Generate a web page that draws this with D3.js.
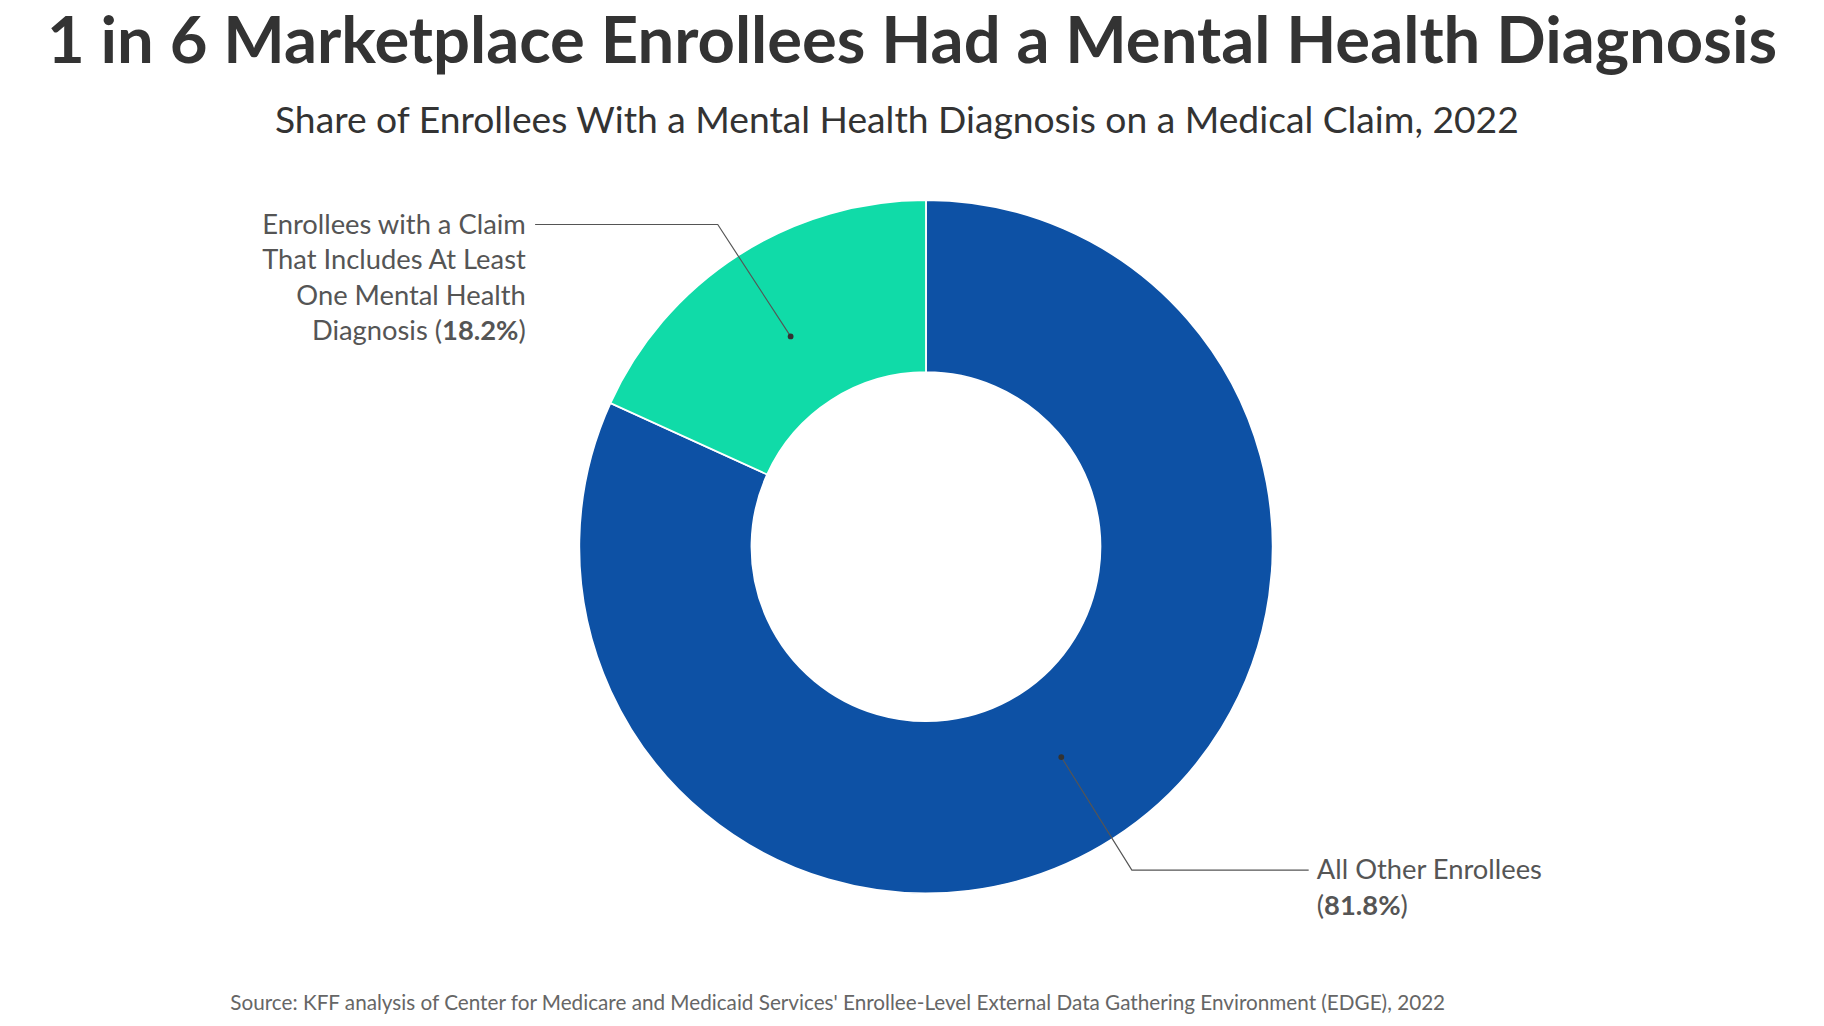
<!DOCTYPE html>
<html lang="en">
<head>
<meta charset="UTF-8">
<title></title>
<style>
  body { margin: 0; background: #fff; overflow: hidden; }
  text { font-family: "Source Sans Pro", Lato, "Noto Sans", sans-serif; }
  .title { font-size: 56px; font-weight: 700; fill: #333; text-anchor: middle; }
  .subtitle { font-size: 32px; fill: #333; text-anchor: middle; }
  .label { font-size: 23.5px; fill: #555; }
  .source { font-size: 17.8px; fill: #666; }
  .leader { fill: none; stroke: #555; stroke-width: 1px; }
</style>
</head>
<body>
<script src="https://d3js.org/d3.v7.min.js"></script>
<script>
  const categories = ['All Other Enrollees', 'Enrollees with a Claim That Includes At Least One Mental Health Diagnosis'];
  const values = [81.8, 18.2];
  const colors = ['#0d51a5', '#10dba8'];

  const W = 1568, H = 882;
  const cx = 796, cy = 470, outerR = 298, innerR = 150;

  const svg = d3.select('body').append('svg')
    .attr('width', 1824).attr('height', 1026)
    .attr('viewBox', `0 0 ${W} ${H}`);

  svg.append('text').attr('class', 'title').attr('x', 784).attr('y', 54)
    .text('1 in 6 Marketplace Enrollees Had a Mental Health Diagnosis');
  svg.append('text').attr('class', 'subtitle').attr('x', 771).attr('y', 114)
    .text('Share of Enrollees With a Mental Health Diagnosis on a Medical Claim, 2022');

  const pie = d3.pie().sort(null).value(d => d);
  const arcs = pie(values);
  const arc = d3.arc().innerRadius(innerR).outerRadius(outerR);
  const g = svg.append('g').attr('transform', `translate(${cx},${cy})`);
  g.selectAll('path').data(arcs).join('path')
    .attr('d', arc)
    .attr('fill', (d, i) => colors[i])
    .attr('stroke', '#fff').attr('stroke-width', 1.5);

  const mid = d => (d.startAngle + d.endAngle) / 2;
  const pt = (d, r) => [cx + Math.sin(mid(d)) * r, cy - Math.cos(mid(d)) * r];

  // mental health label (left)
  const a1 = arcs[1];
  const p1 = pt(a1, 215);
  svg.append('path').attr('class', 'leader')
    .attr('d', d3.line()([p1, [617, 193], [460, 193]]));
  svg.append('circle').attr('cx', p1[0]).attr('cy', p1[1]).attr('r', 2.5).attr('fill', '#333');
  const lines1 = ['Enrollees with a Claim', 'That Includes At Least', 'One Mental Health'];
  const t1 = svg.append('text').attr('class', 'label').attr('text-anchor', 'end');
  lines1.forEach((l, i) => t1.append('tspan').attr('x', 452).attr('y', 201 + i * 30.5).text(l));
  const last1 = t1.append('tspan').attr('x', 452).attr('y', 292);
  last1.append('tspan').text('Diagnosis (');
  last1.append('tspan').attr('font-weight', 700).text(values[1].toFixed(1) + '%');
  last1.append('tspan').text(')');

  // other label (right)
  const a0 = arcs[0];
  const p0 = pt(a0, 215);
  svg.append('path').attr('class', 'leader')
    .attr('d', d3.line()([p0, [973, 748], [1125, 748]]));
  svg.append('circle').attr('cx', p0[0]).attr('cy', p0[1]).attr('r', 2.5).attr('fill', '#333');
  const t0 = svg.append('text').attr('class', 'label');
  t0.append('tspan').attr('x', 1132).attr('y', 756).text(categories[0]);
  const l0 = t0.append('tspan').attr('x', 1132).attr('y', 787);
  l0.append('tspan').text('(');
  l0.append('tspan').attr('font-weight', 700).text(values[0].toFixed(1) + '%');
  l0.append('tspan').text(')');

  svg.append('text').attr('class', 'source').attr('x', 198).attr('y', 868)
    .text("Source: KFF analysis of Center for Medicare and Medicaid Services' Enrollee-Level External Data Gathering Environment (EDGE), 2022");
</script>
</body>
</html>
